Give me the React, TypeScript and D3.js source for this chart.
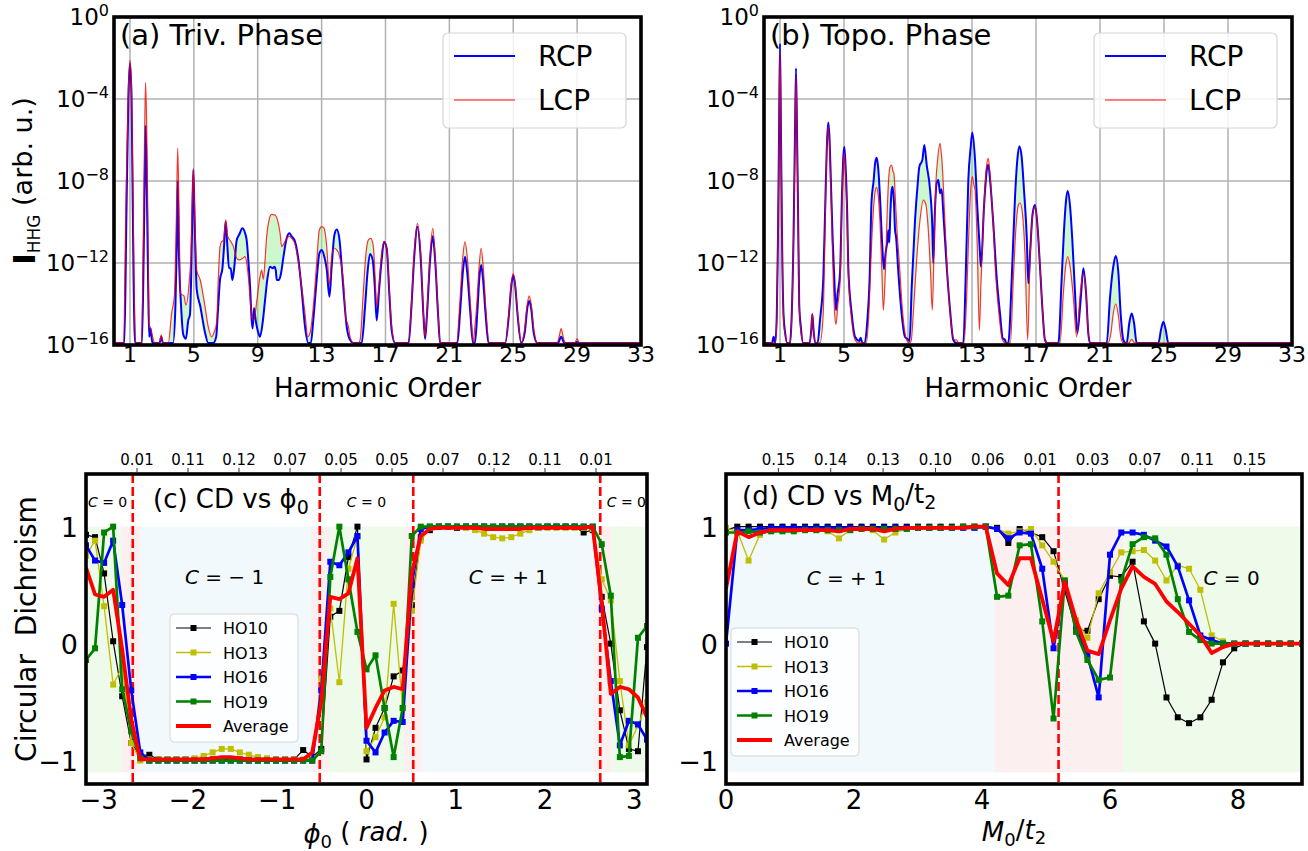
import React, { useEffect, useRef } from "react";
import * as d3 from "d3";

type Pt = [number, number];
const FONT = "'DejaVu Sans', Verdana, sans-serif";

// ---------- (a)/(b) HHG spectra: [harmonic order, log10 intensity] ----------
const trivialRCP: Pt[] = [
  [0, -15.9], [0.65, -15.9], [0.78, -9.5], [0.9, -4.0], [1.0, -2.25], [1.1, -4.0], [1.22, -12.5], [1.32, -15.9],
  [1.75, -15.9], [1.86, -11.5], [1.93, -7.5], [1.98, -5.3], [2.04, -7.5], [2.12, -12.0], [2.2, -15.6], [2.29, -15.2], [2.4, -15.9],
  [2.85, -15.9], [2.96, -15.6], [3.06, -15.9],
  [3.7, -15.9], [3.85, -14.0], [3.93, -11.0], [3.99, -8.0], [4.05, -11.0], [4.2, -14.1], [4.34, -15.5], [4.5, -15.7], [4.65, -14.8],
  [4.76, -14.5], [4.85, -12.0], [4.92, -9.0], [4.97, -7.46], [5.05, -10.0], [5.18, -13.3], [5.4, -14.1], [5.7, -15.4], [5.9, -15.9],
  [6.22, -15.9], [6.4, -15.6], [6.5, -14.45], [6.64, -12.8], [6.79, -12.26], [6.89, -11.2], [6.99, -9.98], [7.1, -11.2], [7.2, -12.26],
  [7.31, -12.26], [7.41, -12.83], [7.52, -12.3], [7.68, -10.9], [7.85, -10.6], [8.04, -10.31], [8.21, -10.55], [8.31, -10.9],
  [8.41, -11.85], [8.52, -13.15], [8.62, -14.78], [8.68, -15.2], [8.77, -14.2], [8.87, -14.8], [9.0, -15.3], [9.14, -15.6],
  [9.31, -14.9], [9.46, -13.8], [9.6, -12.8], [9.77, -12.18], [9.94, -12.26], [10.04, -12.18], [10.13, -12.35], [10.19, -12.83],
  [10.33, -12.83], [10.46, -12.5], [10.61, -11.7], [10.81, -10.8], [10.98, -10.55], [11.13, -10.7], [11.34, -10.96], [11.55, -11.85],
  [11.75, -13.3], [11.96, -15.1], [12.17, -15.9], [12.33, -15.9], [12.48, -14.78], [12.69, -12.83], [12.86, -11.53], [13.01, -11.37],
  [13.17, -11.7], [13.32, -12.3], [13.49, -13.64], [13.63, -12.18], [13.8, -10.63], [13.95, -10.36], [14.11, -10.8], [14.26, -12.18],
  [14.4, -13.64], [14.57, -15.1], [14.78, -15.75], [14.99, -15.9],
  [15.51, -15.9], [15.72, -14.13], [15.87, -12.5], [16.03, -11.56], [16.2, -11.85], [16.33, -13.15], [16.45, -14.8], [16.6, -13.3],
  [16.76, -11.85], [16.91, -10.96], [17.08, -11.3], [17.24, -13.5], [17.39, -15.3], [17.6, -15.9],
  [18.45, -15.9], [18.62, -14.2], [18.8, -11.7], [19.0, -10.23], [19.2, -11.7], [19.38, -14.6], [19.48, -15.7], [19.6, -14.5],
  [19.78, -12.0], [19.96, -10.7], [20.12, -12.0], [20.3, -14.6], [20.42, -15.9],
  [21.5, -15.9], [21.68, -14.3], [21.85, -12.4], [21.98, -11.69], [22.11, -12.4], [22.3, -14.3], [22.48, -15.9],
  [22.6, -15.9], [22.75, -14.4], [22.87, -12.8], [22.99, -12.1], [23.11, -12.8], [23.26, -14.4], [23.45, -15.9],
  [24.5, -15.9], [24.72, -14.6], [24.88, -13.1], [25.0, -12.6], [25.12, -13.1], [25.28, -14.6], [25.5, -15.9],
  [25.72, -15.4], [25.88, -14.2], [26.0, -13.85], [26.12, -14.2], [26.28, -15.4], [26.5, -15.9],
  [27.8, -15.9], [28.0, -15.6], [28.2, -15.9], [28.9, -15.9], [29.0, -15.85], [29.1, -15.9], [33, -15.9],
];

const trivialLCP: Pt[] = [
  [0, -15.9], [0.6, -15.9], [0.75, -9.0], [0.9, -3.5], [1.0, -2.1], [1.1, -3.5], [1.25, -12.5], [1.34, -15.9],
  [1.72, -15.9], [1.84, -10.5], [1.92, -5.5], [1.98, -3.2], [2.05, -5.5], [2.12, -10.0], [2.2, -15.0], [2.3, -15.2], [2.42, -15.6], [2.55, -15.9],
  [2.85, -15.9], [2.96, -15.5], [3.06, -15.9],
  [3.4, -15.9], [3.61, -14.45], [3.78, -13.6], [3.9, -10.0], [3.99, -6.4], [4.08, -10.0], [4.16, -13.5], [4.38, -13.6], [4.5, -14.05],
  [4.7, -13.0], [4.82, -11.5], [4.9, -9.0], [4.97, -7.4], [5.05, -9.5], [5.18, -12.35], [5.4, -12.83], [5.7, -14.13], [5.9, -15.1],
  [6.12, -15.6], [6.26, -15.4], [6.43, -14.9], [6.53, -12.8], [6.64, -11.2], [6.74, -10.96], [6.85, -10.9], [7.0, -9.9], [7.12, -10.7],
  [7.27, -10.9], [7.48, -11.2], [7.68, -11.77], [7.85, -11.85], [8.06, -11.77], [8.2, -11.69], [8.31, -12.0], [8.45, -13.0],
  [8.56, -14.13], [8.62, -14.6], [8.75, -14.8], [8.95, -13.8], [9.14, -12.67], [9.25, -12.35], [9.35, -12.8], [9.46, -11.85],
  [9.56, -10.7], [9.71, -9.9], [9.87, -9.63], [10.08, -9.66], [10.29, -10.07], [10.4, -10.55], [10.5, -11.2], [10.65, -11.04],
  [10.81, -10.8], [10.98, -10.7], [11.13, -10.8], [11.34, -11.1], [11.55, -12.0], [11.75, -13.15], [11.96, -14.45], [12.13, -15.6],
  [12.28, -15.4], [12.48, -14.13], [12.69, -12.0], [12.86, -10.39], [13.01, -10.23], [13.15, -10.3], [13.32, -11.2], [13.49, -13.07],
  [13.63, -11.7], [13.78, -11.28], [13.95, -11.36], [14.15, -11.77], [14.36, -12.83], [14.53, -14.78], [14.6, -14.9], [14.68, -15.1],
  [14.78, -15.6], [14.99, -15.9],
  [15.3, -15.9], [15.41, -15.75], [15.62, -13.3], [15.78, -11.53], [15.93, -10.87], [16.08, -10.8], [16.24, -11.2], [16.35, -12.67],
  [16.45, -14.13], [16.6, -13.0], [16.76, -11.53], [16.91, -10.96], [17.08, -11.3], [17.24, -13.3], [17.39, -15.1], [17.6, -15.9],
  [18.45, -15.9], [18.62, -14.0], [18.8, -11.5], [19.0, -10.07], [19.2, -11.5], [19.38, -14.5], [19.48, -15.6], [19.6, -14.3],
  [19.78, -11.7], [19.96, -10.31], [20.12, -11.8], [20.3, -14.5], [20.42, -15.9],
  [21.46, -15.9], [21.65, -14.0], [21.83, -11.8], [21.98, -10.96], [22.13, -11.8], [22.32, -14.0], [22.5, -15.9],
  [22.55, -15.5], [22.72, -14.0], [22.85, -12.3], [22.99, -11.28], [23.13, -12.3], [23.28, -14.2], [23.5, -15.9],
  [24.5, -15.9], [24.72, -14.5], [24.88, -13.0], [25.0, -12.5], [25.12, -13.0], [25.28, -14.5], [25.5, -15.9],
  [25.7, -15.3], [25.88, -14.0], [26.0, -13.6], [26.12, -14.0], [26.3, -15.3], [26.5, -15.9],
  [27.75, -15.9], [27.9, -15.5], [28.0, -15.2], [28.1, -15.5], [28.25, -15.9], [28.85, -15.9], [29.0, -15.7], [29.15, -15.9], [33, -15.9],
];

const topoRCP: Pt[] = [
  [0, -15.9], [0.5, -15.9], [0.6, -15.6], [0.7, -15.9], [0.8, -14.5], [0.87, -11.0], [0.94, -5.7], [1.0, -1.3], [1.06, -5.7],
  [1.14, -11.5], [1.22, -14.5], [1.32, -15.4], [1.45, -15.9], [1.62, -15.9], [1.72, -14.8], [1.85, -10.5], [1.93, -6.0], [2.0, -2.5],
  [2.07, -6.0], [2.13, -9.5], [2.2, -14.0], [2.3, -15.1], [2.45, -15.9],
  [2.85, -15.9], [2.95, -15.3], [3.02, -14.5], [3.1, -15.3], [3.2, -15.9],
  [3.35, -15.9], [3.5, -14.78], [3.71, -12.67], [3.85, -8.5], [3.95, -5.9], [4.02, -5.15], [4.1, -6.0], [4.19, -8.28], [4.29, -10.8],
  [4.38, -12.5], [4.5, -14.3], [4.6, -13.5], [4.75, -12.5], [4.88, -8.5], [4.96, -6.8], [5.02, -6.33], [5.1, -7.3], [5.2, -9.58],
  [5.27, -12.26], [5.48, -14.46], [5.69, -15.6], [5.96, -15.8], [6.04, -15.65], [6.15, -15.9],
  [6.3, -15.9], [6.45, -14.9], [6.6, -12.8], [6.72, -9.0], [6.85, -8.0], [6.95, -7.1], [7.04, -6.86], [7.13, -7.3], [7.25, -8.8],
  [7.38, -11.0], [7.5, -12.3], [7.6, -11.5], [7.7, -11.0], [7.77, -10.4], [7.83, -11.0], [7.9, -9.5], [7.98, -8.44], [8.04, -8.28],
  [8.12, -9.0], [8.19, -10.4], [8.25, -10.7], [8.4, -12.5], [8.6, -14.46], [8.81, -15.6], [8.95, -15.7], [9.1, -15.8],
  [9.23, -13.2], [9.44, -9.9], [9.6, -8.2], [9.71, -7.3], [9.9, -6.97], [10.02, -6.24], [10.17, -7.22], [10.38, -8.44], [10.52, -10.23],
  [10.58, -12.0], [10.68, -9.5], [10.79, -8.11], [10.9, -7.95], [11.0, -8.6], [11.1, -8.4], [11.21, -9.58], [11.42, -12.18],
  [11.63, -14.3], [11.83, -15.75], [12.0, -15.9],
  [12.46, -15.9], [12.6, -12.83], [12.77, -7.95], [12.92, -6.33], [13.02, -5.64], [13.19, -6.98], [13.33, -9.25], [13.5, -11.53],
  [13.56, -12.18], [13.75, -9.25], [13.96, -7.3], [14.02, -7.22], [14.13, -7.95], [14.33, -10.07], [14.55, -12.8], [14.75, -14.46],
  [14.92, -15.67], [15.06, -15.75], [15.15, -15.9],
  [15.27, -15.9], [15.48, -12.83], [15.69, -8.76], [15.83, -6.98], [15.96, -6.3], [16.1, -6.8], [16.25, -8.44], [16.42, -10.7],
  [16.52, -12.99], [16.63, -11.53], [16.79, -9.58], [16.94, -9.17], [17.08, -10.07], [17.25, -12.18], [17.42, -14.46], [17.56, -15.75], [17.7, -15.9],
  [18.4, -15.9], [18.6, -12.83], [18.75, -10.4], [18.88, -8.93], [18.98, -8.49], [19.13, -9.25], [19.27, -10.88], [19.44, -13.48],
  [19.58, -15.43], [19.79, -13.8], [19.96, -12.26], [20.13, -13.48], [20.27, -15.43], [20.38, -15.9],
  [21.42, -15.9], [21.63, -13.64], [21.83, -12.18], [21.98, -11.66], [22.15, -12.5], [22.29, -14.46], [22.46, -15.75], [22.6, -15.9],
  [22.67, -15.9], [22.83, -14.94], [22.98, -14.46], [23.13, -14.94], [23.29, -15.9],
  [24.65, -15.9], [24.81, -15.27], [24.96, -14.86], [25.11, -15.27], [25.27, -15.9], [33, -15.9],
];

const topoLCP: Pt[] = [
  [0, -15.9], [0.7, -15.9], [0.8, -14.8], [0.88, -10.5], [0.95, -5.0], [1.0, -1.74], [1.06, -5.5], [1.14, -11.5], [1.22, -14.8],
  [1.32, -15.5], [1.45, -15.9], [1.65, -15.9], [1.75, -14.2], [1.86, -10.5], [1.94, -6.0], [2.0, -2.9], [2.07, -6.2], [2.13, -9.5],
  [2.2, -14.0], [2.3, -15.3], [2.45, -15.9],
  [2.85, -15.9], [2.95, -15.3], [3.02, -14.46], [3.1, -15.3], [3.2, -15.9],
  [3.5, -15.9], [3.7, -14.5], [3.8, -11.0], [3.92, -6.5], [4.02, -5.35], [4.1, -6.5], [4.2, -9.0], [4.3, -12.0], [4.42, -14.5],
  [4.5, -15.0], [4.62, -14.0], [4.75, -13.0], [4.88, -9.0], [4.96, -7.2], [5.02, -6.62], [5.1, -7.8], [5.2, -10.0], [5.27, -12.5],
  [5.48, -14.8], [5.69, -15.75], [5.9, -15.9],
  [6.4, -15.9], [6.55, -14.5], [6.7, -11.5], [6.85, -9.3], [6.95, -8.5], [7.04, -8.31], [7.15, -8.8], [7.25, -10.0], [7.35, -12.0],
  [7.46, -14.3], [7.58, -12.5], [7.7, -9.5], [7.8, -7.8], [7.88, -7.3], [7.98, -7.22], [8.05, -7.5], [8.12, -7.63], [8.22, -9.0],
  [8.32, -10.5], [8.46, -12.02], [8.67, -14.46], [8.92, -15.75], [9.1, -15.9],
  [9.2, -15.8], [9.33, -14.46], [9.54, -11.85], [9.75, -9.9], [9.96, -8.93], [10.1, -9.1], [10.27, -10.4], [10.4, -12.3], [10.52, -14.3],
  [10.65, -10.5], [10.75, -8.0], [10.85, -6.97], [11.0, -6.16], [11.1, -6.8], [11.17, -7.63], [11.31, -10.07], [11.46, -12.5],
  [11.67, -14.78], [11.88, -15.75], [12.04, -15.75], [12.15, -15.9],
  [12.5, -15.9], [12.65, -14.0], [12.77, -11.2], [12.92, -8.44], [13.02, -7.79], [13.12, -8.2], [13.19, -8.44], [13.33, -11.2],
  [13.46, -15.27], [13.56, -13.0], [13.65, -11.2], [13.8, -8.44], [13.92, -7.2], [14.02, -6.89], [14.12, -7.6], [14.3, -9.8],
  [14.5, -12.8], [14.7, -14.6], [14.9, -15.75], [15.1, -15.9],
  [15.4, -15.9], [15.58, -12.83], [15.75, -10.23], [15.9, -9.17], [16.0, -9.06], [16.15, -9.58], [16.31, -11.53], [16.48, -15.75],
  [16.62, -12.0], [16.79, -9.7], [16.96, -9.25], [17.08, -10.07], [17.25, -12.18], [17.42, -14.46], [17.56, -15.75], [17.7, -15.9],
  [18.5, -15.9], [18.71, -13.48], [18.85, -12.18], [18.98, -11.69], [19.13, -12.18], [19.33, -13.64], [19.54, -15.6], [19.75, -13.6],
  [19.96, -12.5], [20.13, -13.5], [20.27, -15.43], [20.38, -15.9],
  [21.5, -15.9], [21.68, -15.43], [21.83, -14.46], [21.98, -14.0], [22.13, -14.46], [22.3, -15.6], [22.45, -15.9],
  [22.8, -15.9], [22.98, -15.72], [23.15, -15.9], [33, -15.9],
];

const harmonicTicks = [1, 5, 9, 13, 17, 21, 25, 29, 33];
const decadeTicks = [0, -4, -8, -12, -16];
const decadeLabels = ["0", "\u22124", "\u22128", "\u221212", "\u221216"];

// ---------- (c) CD vs phi0 ----------
const phiGrid = d3.range(63).map((k) => -Math.PI + (k * 2 * Math.PI) / 62);
const phiHO10 = [
  0.93, 0.91, 0.6, 0.02, -0.45, -0.85, -0.96, -0.95,
  -0.99, -0.99, -0.99, -0.99, -0.99, -0.99, -0.99, -0.99, -0.99, -0.99, -0.99, -0.99, -0.99, -0.99, -0.99, -0.99,
  -0.91, -0.97, -0.9,
  0.23, 0.28, 0.74, 1.0, -0.99, -0.72, -0.55, -0.28, -0.23, 0.33, 0.91, 0.97,
  1.0, 1.0, 0.99, 1.0, 1.0, 1.0, 0.99, 1.0, 1.0, 1.0, 1.0, 0.99, 1.0, 1.0, 1.0, 1.0,
  0.95, 0.97, 0.4, 0.0, -0.57, -0.9, -0.92, -0.03,
];
const phiHO13 = [
  0.75, 0.88, 0.32, -0.35, -0.2, -0.85, -1.0, -0.99, -0.99, -0.99, -0.99, -0.99, -0.98, -0.96, -0.93, -0.9,
  -0.9, -0.93, -0.95, -0.97, -0.98, -0.99, -0.99, -0.99, -0.99, -0.98, -0.3, 0.3, -0.33, 0.64, 0.91, -0.92,
  -0.8, -0.63, 0.34, -0.55, 0.28, 0.88, 0.99, 1.0, 1.0, 1.0, 0.99, 0.97, 0.94, 0.91, 0.9, 0.91,
  0.94, 0.97, 0.99, 0.99, 0.99, 0.99, 0.99, 0.99, 0.98, 0.55, 0.37, -0.32, -0.87, -0.7, -0.5,
];
const phiHO16 = [
  0.84, 0.71, 0.69, 0.88, 0.33, -0.4, -0.93,
  -1.0, -1.0, -1.0, -1.0, -1.0, -1.0, -1.0, -1.0, -1.0, -1.0, -1.0, -1.0, -1.0, -1.0, -1.0, -1.0, -1.0, -1.0, -1.0,
  -0.4, 0.7, 0.67, 0.78, 0.92, -0.83, -0.93, -0.76, -0.66, -0.67, 0.5, 0.98,
  1.0, 1.0, 1.0, 1.0, 1.0, 1.0, 1.0, 1.0, 1.0, 1.0, 1.0, 1.0, 1.0, 1.0, 1.0, 1.0, 1.0, 1.0, 1.0,
  0.3, -0.32, -0.87, -0.66, -0.69, -0.82,
];
const phiHO19 = [
  -0.14, -0.04, 0.95, 1.0, -0.39, -0.75, -0.98,
  -1.0, -1.0, -1.0, -1.0, -1.0, -1.0, -1.0, -1.0, -1.0, -1.0, -1.0, -1.0, -1.0, -1.0, -1.0, -1.0, -1.0, -1.0, -1.0,
  -0.92, 0.57, 1.0, 0.55, 0.1, -0.22, -0.1, -0.55, -0.97, -0.55, 0.92, 1.0,
  1.0, 1.0, 1.0, 1.0, 1.0, 1.0, 1.0, 1.0, 1.0, 1.0, 1.0, 1.0, 1.0, 1.0, 1.0, 1.0, 1.0, 1.0, 1.0,
  0.85, 0.41, -0.97, -0.96, 0.05, 0.15,
];
const phiAverage = [
  0.65, 0.42, 0.4, 0.46, -0.05, -0.65, -0.99,
  -0.99, -0.99, -0.99, -0.99, -0.99, -0.99, -0.99,
  -0.98, -0.97, -0.97, -0.98,
  -0.99, -0.99, -0.99, -0.99, -0.99, -0.99, -0.99,
  -0.93, -0.5, 0.4, 0.38, 0.43, 0.73, -0.72, -0.55, -0.4, -0.37, -0.39, 0.6, 0.92,
  0.98, 0.99, 0.99, 0.99, 0.99, 0.99, 0.98, 0.98, 0.98, 0.98, 0.98,
  0.99, 0.99, 0.99, 0.99, 0.99, 0.99, 0.99, 1.0,
  0.35, -0.43, -0.37, -0.39, -0.46, -0.63,
];
const phiTopTicks = [-9, -7, -5, -3, -1, 1, 3, 5, 7, 9].map((n) => (n * Math.PI) / 11);
const phiTopLabels = ["0.01", "0.11", "0.12", "0.07", "0.05", "0.05", "0.07", "0.12", "0.11", "0.01"];
const phiTransitions = [(-5 * Math.PI) / 6, -Math.PI / 6, Math.PI / 6, (5 * Math.PI) / 6];
const phiPhases: [number, number, string][] = [
  [-Math.PI, -2.74, "green"], [-2.74, -2.54, "pink"], [-2.54, -0.62, "blue"], [-0.62, -0.42, "pink"],
  [-0.42, 0.42, "green"], [0.42, 0.62, "pink"], [0.62, 2.54, "blue"], [2.54, 2.74, "pink"], [2.74, Math.PI, "green"],
];

// ---------- (d) CD vs M0/t2 ----------
const massGrid = d3.range(52).map((k) => (k * 9) / 51);
const massHO10 = [
  0.97, 1.0, 1.0, 1.0, 1.0, 1.0, 1.0, 1.0, 1.0, 1.0, 1.0, 1.0, 1.0, 1.0, 1.0, 1.0, 1.0, 1.0, 1.0, 1.0, 1.0, 1.0, 1.0, 1.0,
  0.99, 0.86, 0.98, 0.95, 0.91, 0.79, 0.45, 0.12, 0.11, 0.38, 0.58, 0.57, 0.7, 0.19, 0.0, -0.46, -0.63, -0.68, -0.63, -0.48,
  -0.16, -0.04, 0.0, 0.0, 0.0, 0.0, 0.0, 0.0,
];
const massHO13 = [
  0.99, 0.96, 0.71, 0.93, 0.97, 0.97, 0.97, 0.97, 0.97, 0.96, 0.9, 0.97, 0.98, 0.97, 0.89, 0.95, 0.98, 0.99, 0.99, 0.99,
  0.99, 0.99, 0.99, 1.0, 0.98, 0.94, 0.96, 0.98, 0.84, 0.7, 0.54, 0.2, 0.05, 0.43, 0.61, 0.78, 0.79, 0.8, 0.71, 0.54,
  0.67, 0.64, 0.46, 0.07, 0.02, 0.0, 0.0, 0.0, 0.0, 0.0, 0.0, 0.0,
];
const massHO16 = [
  0.0, 0.97, 0.97, 0.98, 0.99, 0.99, 0.99, 0.99, 0.99, 0.99, 0.99, 0.99, 0.99, 0.99, 0.99, 0.99, 0.99, 0.99, 0.99, 0.99,
  0.99, 0.99, 0.99, 1.0, 0.98, 0.9, 0.95, 0.94, 0.64, -0.04, 0.52, 0.13, -0.1, -0.46, 0.76, 0.95, 0.95, 0.93, 0.88, 0.83,
  0.66, 0.37, 0.07, 0.03, 0.0, 0.0, 0.0, 0.0, 0.0, 0.0, 0.0, 0.0,
];
const massHO19 = [
  0.95, 0.95, 0.96, 0.95, 0.96, 0.96, 0.96, 0.97, 0.97, 0.97, 0.97, 0.97, 0.98, 0.98, 0.98, 0.98, 0.98, 0.99, 0.99, 0.99,
  0.99, 1.0, 1.0, 1.0, 0.4, 0.41, 0.84, 0.85, 0.19, -0.64, 0.54, 0.1, -0.14, -0.31, -0.29, 0.54, 0.85, 0.91, 0.9, 0.76,
  0.38, 0.1, 0.03, 0.0, 0.0, 0.0, 0.0, 0.0, 0.0, 0.0, 0.0, 0.0,
];
const massAverage = [
  0.47, 0.96, 0.91, 0.95, 0.97, 0.97, 0.97, 0.97, 0.97, 0.97, 0.96, 0.98, 0.98, 0.98, 0.96, 0.98, 0.99, 0.99, 0.99, 0.99,
  0.99, 0.99, 1.0, 1.0, 0.6, 0.5, 0.73, 0.73, 0.38, 0.02, 0.53, 0.2, -0.06, -0.09, 0.2, 0.47, 0.66, 0.57, 0.51, 0.36,
  0.27, 0.17, 0.07, -0.08, -0.03, 0.0, 0.0, 0.0, 0.0, 0.0, 0.0, 0.0,
];
const massTopTicks = [1, 2, 3, 4, 5, 6, 7, 8, 9, 10].map((n) => (n * 9) / 11);
const massTopLabels = ["0.15", "0.14", "0.13", "0.10", "0.06", "0.01", "0.03", "0.07", "0.11", "0.15"];
const massTransitions = [3 * Math.sqrt(3)];
const massPhases: [number, number, string][] = [[0, 4.2, "blue"], [4.2, 6.2, "pink"], [6.2, 9, "green"]];

const seriesNames = ["HO10", "HO13", "HO16", "HO19", "Average"];
const seriesColors = ["#000000", "#bfbf00", "#0000ff", "#008000", "#ff0000"];
const seriesWidths = [1.2, 1.3, 2.7, 2.7, 3.8];
const phaseColors: Record<string, string> = { green: "#eefaea", pink: "#fcefef", blue: "#f2f9fc" };

type Part = { t: string; italic?: boolean; bold?: boolean; size?: number; dy?: string };

function rich(parent: any, x: number, y: number, size: number, anchor: string, parts: Part[]) {
  const t = parent
    .append("text")
    .attr("x", x)
    .attr("y", y)
    .attr("font-size", size)
    .attr("text-anchor", anchor)
    .attr("font-family", FONT)
    .attr("fill", "#000")
    .style("white-space", "pre");
  parts.forEach((p) => {
    const s = t.append("tspan").text(p.t);
    if (p.italic) s.attr("font-style", "italic");
    if (p.bold) s.attr("font-weight", "bold");
    if (p.size) s.attr("font-size", p.size);
    if (p.dy) s.attr("dy", p.dy);
  });
  return t;
}

function frame(g: any, l: number, t: number, r: number, b: number) {
  g.append("rect")
    .attr("x", l).attr("y", t).attr("width", r - l).attr("height", b - t)
    .attr("fill", "none").attr("stroke", "#000").attr("stroke-width", 3.6);
}

function drawSpectrum(svg: any, p: { id: string; left: number; right: number; top: number; bottom: number; rcp: Pt[]; lcp: Pt[]; title: string; yLabel: boolean }) {
  const x = d3.scaleLinear().domain([0, 33]).range([p.left, p.right]);
  const y = d3.scaleLog().domain([1e-16, 1]).range([p.bottom, p.top]);
  const g = svg.append("g");
  g.append("clipPath").attr("id", "clip" + p.id).append("rect")
    .attr("x", p.left).attr("y", p.top).attr("width", p.right - p.left).attr("height", p.bottom - p.top);

  const grid = g.append("g").attr("stroke", "#b0b0b0").attr("stroke-width", 1.5);
  grid.selectAll("line.v").data(harmonicTicks).join("line").attr("class", "v")
    .attr("x1", (d: number) => x(d)).attr("x2", (d: number) => x(d)).attr("y1", p.top).attr("y2", p.bottom);
  grid.selectAll("line.h").data(decadeTicks).join("line").attr("class", "h")
    .attr("x1", p.left).attr("x2", p.right)
    .attr("y1", (d: number) => y(Math.pow(10, d))).attr("y2", (d: number) => y(Math.pow(10, d)));

  const line = d3.line<Pt>().x((d) => x(d[0])).y((d) => y(Math.pow(10, d[1]))).curve(d3.curveMonotoneX);
  const fwd = line(p.rcp) as string;
  const back = line(p.lcp.slice().reverse()) as string;
  const plot = g.append("g").attr("clip-path", `url(#clip${p.id})`);
  plot.append("path").attr("d", fwd + "L" + back.slice(1) + "Z")
    .attr("fill", "#90ee90").attr("fill-opacity", 0.45).attr("stroke", "none");
  plot.append("path").attr("d", fwd).attr("fill", "none").attr("stroke", "#0000ff").attr("stroke-width", 2);
  plot.append("path").attr("d", line(p.lcp)).attr("fill", "none").attr("stroke", "#ff0000")
    .attr("stroke-width", 1.2).attr("stroke-opacity", 0.8);

  frame(g, p.left, p.top, p.right, p.bottom);

  harmonicTicks.forEach((t) => rich(g, x(t), p.bottom + 17, 22, "middle", [{ t: String(t) }]));
  decadeTicks.forEach((d, i) =>
    rich(g, p.left - 5, y(Math.pow(10, d)) + 8, 23, "end", [
      { t: "10" },
      { t: decadeLabels[i], size: 16, dy: "-0.55em" },
    ])
  );
  rich(g, (p.left + p.right) / 2, p.bottom + 52, 26, "middle", [{ t: "Harmonic Order" }]);
  if (p.yLabel) {
    const lbl = rich(g, 0, 0, 27, "middle", [
      { t: "I", bold: true, size: 31 },
      { t: "HHG", size: 17, dy: "0.3em" },
      { t: " (arb. u.)", dy: "-0.3em" },
    ]);
    lbl.attr("transform", `translate(${p.left - 79},${(p.top + p.bottom) / 2}) rotate(-90)`);
  }
  rich(g, p.left + 6, p.top + 28, 29, "start", [{ t: p.title }]);

  // legend
  const lx = p.right - 198;
  const leg = g.append("g");
  leg.append("rect").attr("x", lx).attr("y", p.top + 16).attr("width", 183).attr("height", 95).attr("rx", 5)
    .attr("fill", "#fff").attr("fill-opacity", 0.85).attr("stroke", "#d6d6d6").attr("stroke-width", 1.2);
  const entries: [string, string, number][] = [["RCP", "#0000ff", 2], ["LCP", "#ff0000", 1.2]];
  entries.forEach(([name, color, w], i) => {
    const yy = p.top + 39 + i * 44;
    leg.append("line").attr("x1", lx + 11).attr("x2", lx + 72).attr("y1", yy).attr("y2", yy)
      .attr("stroke", color).attr("stroke-width", w);
    rich(leg, lx + 95, yy + 10, 28, "start", [{ t: name }]);
  });
}

function cText(g: any, x: number, y: number, size: number, rest: string) {
  return rich(g, x, y, size, "middle", [{ t: "C", italic: true }, { t: rest }]);
}

function drawCD(svg: any, p: {
  id: string; left: number; right: number; top: number; bottom: number; domain: [number, number];
  xs: number[]; series: number[][]; phases: [number, number, string][]; transitions: number[];
  topTicks: number[]; topLabels: string[]; xTicks: number[]; legend: [number, number];
}) {
  const x = d3.scaleLinear().domain(p.domain).range([p.left, p.right]);
  const y = d3.scaleLinear().domain([-1.2, 1.45]).range([p.bottom, p.top]);
  const g = svg.append("g");
  g.append("clipPath").attr("id", "clip" + p.id).append("rect")
    .attr("x", p.left).attr("y", p.top).attr("width", p.right - p.left).attr("height", p.bottom - p.top);
  const plot = g.append("g").attr("clip-path", `url(#clip${p.id})`);

  plot.selectAll("rect.phase").data(p.phases).join("rect").attr("class", "phase")
    .attr("x", (d: any) => x(d[0])).attr("width", (d: any) => x(d[1]) - x(d[0]))
    .attr("y", y(1)).attr("height", y(-1.1) - y(1))
    .attr("fill", (d: any) => phaseColors[d[2]]);

  plot.selectAll("line.tr").data(p.transitions).join("line").attr("class", "tr")
    .attr("x1", (d: number) => x(d)).attr("x2", (d: number) => x(d)).attr("y1", p.top).attr("y2", p.bottom)
    .attr("stroke", "#ff0000").attr("stroke-width", 2.6).attr("stroke-dasharray", "9,4");

  p.series.forEach((vals, si) => {
    const pts: Pt[] = vals.map((v, i) => [p.xs[i], v]);
    const line = d3.line<Pt>().x((d) => x(d[0])).y((d) => y(d[1]));
    plot.append("path").attr("d", line(pts)).attr("fill", "none")
      .attr("stroke", seriesColors[si]).attr("stroke-width", seriesWidths[si]).attr("stroke-linejoin", "round");
    if (si < 4) {
      plot.append("g").selectAll("rect").data(pts).join("rect")
        .attr("x", (d: Pt) => x(d[0]) - 3).attr("y", (d: Pt) => y(d[1]) - 3)
        .attr("width", 6).attr("height", 6).attr("fill", seriesColors[si]);
    }
  });

  frame(g, p.left, p.top, p.right, p.bottom);

  // top axis
  p.topTicks.forEach((t, i) => {
    g.append("line").attr("x1", x(t)).attr("x2", x(t)).attr("y1", p.top - 2).attr("y2", p.top - 6)
      .attr("stroke", "#000").attr("stroke-width", 0.8);
    rich(g, x(t), p.top - 9, 15, "middle", [{ t: p.topLabels[i] }]);
  });
  p.xTicks.forEach((t) => rich(g, x(t), p.bottom + 25, 26, "middle", [{ t: t < 0 ? "\u2212" + Math.abs(t) : String(t) }]));
  [-1, 0, 1].forEach((v) => rich(g, p.left - 8, y(v) + 10, 27, "end", [{ t: v < 0 ? "\u22121" : String(v) }]));

  // legend
  const [lx, ly] = p.legend;
  const leg = g.append("g");
  leg.append("rect").attr("x", lx).attr("y", ly).attr("width", 128).attr("height", 128).attr("rx", 4)
    .attr("fill", "#fff").attr("fill-opacity", 0.8).attr("stroke", "#d6d6d6").attr("stroke-width", 1);
  seriesNames.forEach((name, i) => {
    const yy = ly + 14 + i * 24.5;
    leg.append("line").attr("x1", lx + 6).attr("x2", lx + 41).attr("y1", yy).attr("y2", yy)
      .attr("stroke", seriesColors[i]).attr("stroke-width", seriesWidths[i]);
    if (i < 4) {
      leg.append("rect").attr("x", lx + 20.5).attr("y", yy - 3).attr("width", 6).attr("height", 6).attr("fill", seriesColors[i]);
    }
    rich(leg, lx + 53, yy + 6, 16, "start", [{ t: name }]);
  });
  return { x, y, g };
}

export default function App() {
  const ref = useRef<SVGSVGElement>(null);

  useEffect(() => {
    document.body.style.margin = "0";
    const svg = d3.select(ref.current);
    svg.selectAll("*").remove();

    drawSpectrum(svg, { id: "a", left: 114, right: 641, top: 17, bottom: 345, rcp: trivialRCP, lcp: trivialLCP, title: "(a) Triv. Phase", yLabel: true });
    drawSpectrum(svg, { id: "b", left: 764, right: 1292, top: 17, bottom: 345, rcp: topoRCP, lcp: topoLCP, title: "(b) Topo. Phase", yLabel: false });

    const c = drawCD(svg, {
      id: "c", left: 86, right: 647, top: 474, bottom: 784, domain: [-Math.PI, Math.PI], xs: phiGrid,
      series: [phiHO10, phiHO13, phiHO16, phiHO19, phiAverage], phases: phiPhases, transitions: phiTransitions,
      topTicks: phiTopTicks, topLabels: phiTopLabels, xTicks: [-3, -2, -1, 0, 1, 2, 3], legend: [170, 614],
    });
    rich(c.g, 153, 508, 26, "start", [{ t: "(c) CD vs \u03d5" }, { t: "0", size: 19, dy: "0.3em" }]);
    cText(c.g, c.x(-2.9), 507, 14, " = 0");
    cText(c.g, c.x(0), 507, 14, " = 0");
    cText(c.g, c.x(2.91), 507, 14, " = 0");
    cText(c.g, c.x(-1.59), 584, 20, " = \u2212 1");
    cText(c.g, c.x(1.59), 584, 20, " = + 1");
    rich(c.g, 36, 629, 28, "middle", [{ t: "Circular  Dichroism" }]).attr("transform", "rotate(-90 36 629)");
    rich(c.g, 366, 843, 26, "middle", [
      { t: "\u03d5", italic: true },
      { t: "0", size: 18, dy: "0.3em" },
      { t: " ( ", dy: "-0.3em" },
      { t: "rad.", italic: true },
      { t: " )" },
    ]);

    const d = drawCD(svg, {
      id: "d", left: 726, right: 1302, top: 474, bottom: 784, domain: [0, 9], xs: massGrid,
      series: [massHO10, massHO13, massHO16, massHO19, massAverage], phases: massPhases, transitions: massTransitions,
      topTicks: massTopTicks, topLabels: massTopLabels, xTicks: [0, 2, 4, 6, 8], legend: [731, 628],
    });
    rich(d.g, 742, 505, 26, "start", [
      { t: "(d) CD vs M" },
      { t: "0", size: 19, dy: "0.3em" },
      { t: "/t", dy: "-0.3em" },
      { t: "2", size: 19, dy: "0.3em" },
    ]);
    cText(d.g, d.x(1.88), 585, 20, " = + 1");
    cText(d.g, d.x(7.9), 585, 20, " = 0");
    rich(d.g, 1014, 841, 26, "middle", [
      { t: "M", italic: true },
      { t: "0", size: 18, dy: "0.3em" },
      { t: "/", dy: "-0.3em" },
      { t: "t", italic: true },
      { t: "2", size: 18, dy: "0.3em" },
    ]);
  }, []);

  return <svg ref={ref} width={1308} height={851} style={{ display: "block", background: "#fff" }} />;
}
